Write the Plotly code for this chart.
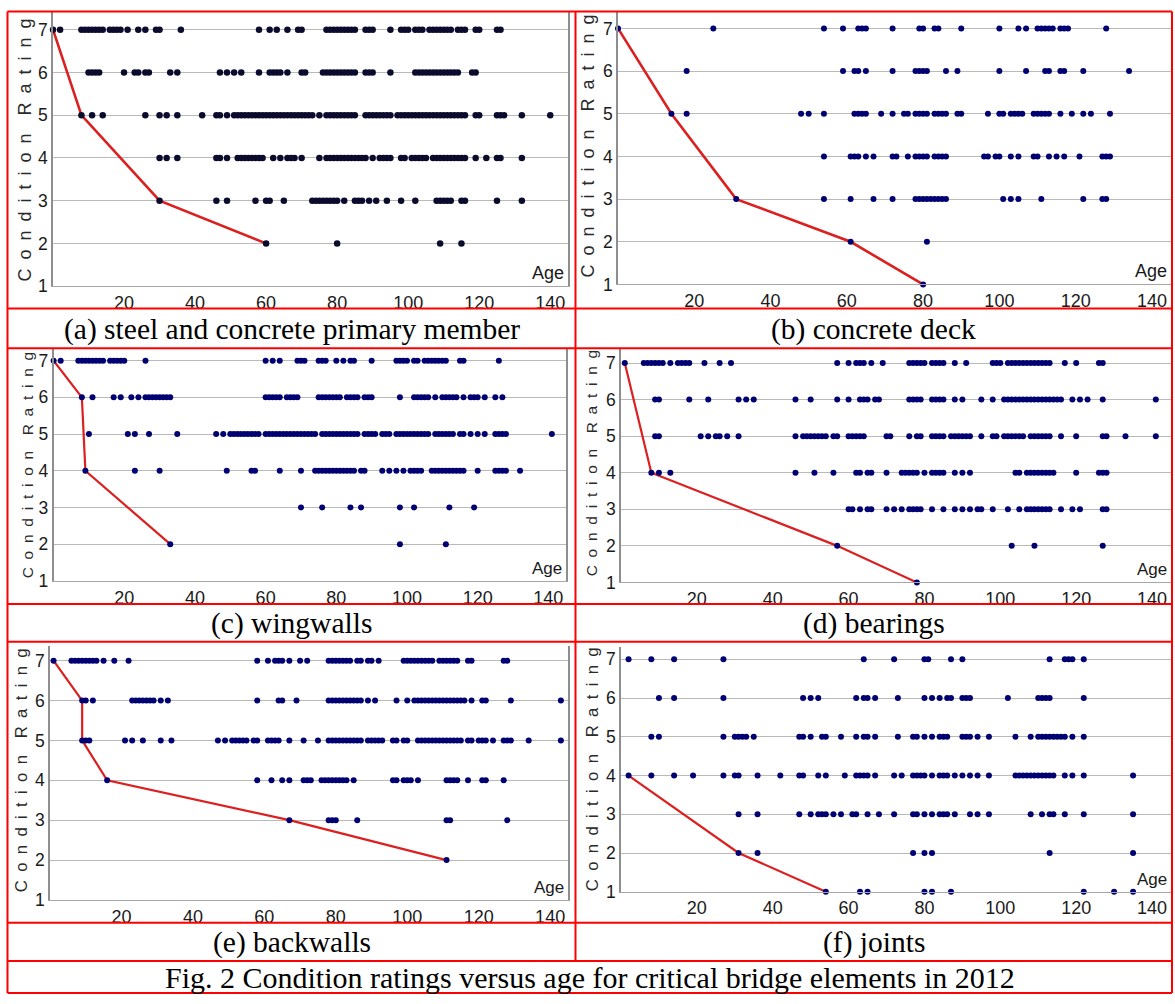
import plotly.graph_objects as go

W, H = 1175, 1004

# ---------------- data (ages) ----------------
AGE_TICKS = [20, 40, 60, 80, 100, 120, 140]
RATING_TICKS = [1, 2, 3, 4, 5, 6, 7]
CAPTIONS = ["(a) steel and concrete primary member", "(b) concrete deck",
            "(c) wingwalls", "(d) bearings", "(e) backwalls", "(f) joints"]
FIG_CAPTION = "Fig. 2 Condition ratings versus age for critical bridge elements in 2012"
Y_TITLE = "Condition Rating"
X_TITLE = "Age"

# (a) steel and concrete primary member
A7 = [0, 2, 8, 9, 10, 11, 12, 13, 14, 16, 17, 18, 19, 21, 24, 26, 29, 30, 36, 58, 61, 63, 66, 69, 70,
      77, 78, 79, 80, 81, 82, 83, 84, 85, 88, 89, 90, 95, 98, 99, 100, 102, 103, 104, 106, 107, 108,
      109, 110, 111, 112, 114, 115, 116, 119, 120, 125, 126]
A6 = [10, 11, 12, 13, 20, 23, 24, 26, 27, 33, 35, 47, 49, 51, 53, 58, 61, 62, 63, 64, 66, 70, 71, 76,
      77, 78, 79, 80, 81, 82, 83, 84, 85, 88, 89, 90, 95, 102, 103, 104, 105, 106, 107, 108, 109, 110,
      111, 112, 113, 114, 118, 119]
A5 = [8, 11, 14, 26, 30, 32, 35, 42, 46, 47, 49, 51, 52, 53, 54, 55, 56, 57, 58, 59, 60, 61, 62, 63,
      64, 65, 66, 67, 68, 69, 70, 71, 72, 73, 75, 77, 78, 79, 80, 81, 82, 83, 84, 85, 88, 89, 90, 91,
      92, 93, 94, 95, 97, 98, 99, 100, 101, 102, 103, 104, 105, 106, 107, 108, 109, 110, 111, 112, 113,
      114, 115, 116, 119, 120, 125, 126, 127, 132, 140]
A4 = [30, 32, 35, 46, 47, 49, 52, 53, 54, 55, 56, 57, 58, 59, 62, 64, 66, 67, 68, 70, 75, 77, 78, 79,
      80, 81, 82, 83, 84, 85, 86, 87, 88, 90, 92, 93, 94, 95, 98, 99, 101, 102, 103, 104, 105, 107, 108,
      109, 110, 111, 112, 113, 114, 115, 116, 119, 122, 125, 126, 132]
A3 = [30, 46, 49, 57, 60, 61, 65, 73, 74, 75, 76, 77, 78, 79, 80, 82, 85, 86, 87, 89, 91, 94, 98, 102,
      108, 109, 110, 111, 112, 115, 116, 125, 132]
A2 = [60, 80, 109, 115]
A_LINE_AGE = [0, 8, 30, 60]
A_LINE_RATING = [7, 5, 3, 2]

# (b) concrete deck
B7 = [0, 25, 54, 59, 63, 64, 65, 72, 79, 80, 83, 84, 90, 100, 105, 107, 110, 111, 112, 113, 114, 116,
      117, 118, 128]
B6 = [18, 59, 62, 63, 65, 72, 78, 79, 80, 81, 86, 89, 100, 107, 112, 113, 116, 117, 122, 134]
B5 = [14, 18, 48, 50, 54, 62, 63, 64, 65, 69, 72, 75, 76, 78, 79, 80, 81, 83, 84, 85, 86, 89, 90, 97,
      100, 101, 103, 104, 105, 106, 109, 110, 111, 112, 113, 116, 119, 122, 124, 129]
B4 = [54, 61, 62, 63, 65, 67, 72, 73, 76, 78, 79, 80, 81, 83, 84, 85, 86, 96, 97, 99, 100, 103, 105,
      109, 110, 113, 115, 117, 121, 127, 128, 129]
B3 = [31, 54, 61, 67, 72, 78, 79, 80, 81, 82, 83, 84, 85, 86, 101, 103, 105, 111, 122, 127, 128]
B2 = [61, 81]
B1 = [80]
B_LINE_AGE = [0, 14, 31, 61, 80]
B_LINE_RATING = [7, 5, 3, 2, 1]

# (c) wingwalls
C7 = [0, 2, 7, 8, 9, 10, 11, 12, 13, 14, 16, 17, 18, 19, 20, 26, 60, 62, 64, 69, 70, 71, 75, 76, 77,
      80, 82, 84, 85, 90, 97, 98, 99, 100, 102, 103, 105, 106, 107, 108, 109, 110, 111, 115, 116, 126]
C6 = [8, 11, 17, 19, 22, 24, 26, 27, 28, 29, 30, 31, 32, 33, 60, 61, 62, 63, 64, 66, 67, 68, 69, 75,
      76, 77, 78, 79, 80, 81, 83, 84, 85, 86, 88, 89, 90, 98, 102, 103, 104, 105, 106, 108, 110, 111,
      112, 113, 114, 116, 118, 119, 120, 122, 125, 127]
C5 = [10, 21, 23, 27, 35, 46, 48, 50, 51, 52, 53, 54, 55, 56, 57, 58, 60, 61, 62, 63, 64, 65, 66, 67,
      68, 69, 70, 71, 72, 73, 74, 76, 77, 78, 79, 80, 81, 82, 83, 84, 85, 86, 88, 89, 90, 91, 93, 94,
      95, 97, 98, 99, 100, 101, 102, 103, 104, 105, 106, 108, 109, 110, 111, 112, 113, 115, 116, 118,
      120, 122, 125, 126, 127, 128, 141]
C4 = [9, 23, 30, 49, 56, 57, 64, 70, 74, 75, 76, 77, 78, 79, 80, 81, 82, 83, 84, 85, 87, 88, 93, 95,
      97, 99, 101, 102, 103, 104, 107, 108, 109, 110, 111, 112, 113, 114, 115, 116, 120, 125, 126, 127,
      128, 132]
C3 = [70, 76, 84, 87, 98, 102, 112, 119]
C2 = [33, 98, 111]
C_LINE_AGE = [0, 8, 9, 33]
C_LINE_RATING = [7, 6, 4, 2]

# (d) bearings
D7 = [1, 6, 7, 8, 9, 10, 11, 13, 15, 16, 17, 18, 22, 26, 29, 57, 60, 62, 63, 64, 66, 69, 76, 77, 78,
      79, 80, 82, 83, 84, 85, 88, 91, 98, 99, 100, 102, 103, 104, 105, 106, 107, 108, 109, 110, 111,
      112, 113, 117, 120, 126, 127]
D6 = [9, 10, 18, 23, 31, 33, 35, 46, 50, 57, 60, 63, 64, 65, 67, 68, 76, 77, 78, 79, 82, 83, 84, 85,
      88, 90, 95, 98, 101, 102, 103, 104, 105, 106, 107, 108, 109, 110, 111, 112, 113, 114, 115, 116,
      119, 121, 123, 127, 141]
D5 = [9, 10, 21, 23, 25, 26, 28, 31, 46, 48, 49, 50, 51, 52, 53, 54, 56, 57, 60, 61, 62, 63, 64, 70,
      71, 76, 78, 79, 82, 83, 84, 85, 87, 88, 89, 90, 91, 92, 95, 98, 99, 101, 102, 103, 104, 105, 106,
      108, 109, 110, 111, 112, 113, 116, 120, 127, 128, 133, 141]
D4 = [8, 10, 13, 46, 51, 56, 62, 63, 65, 66, 70, 74, 75, 76, 77, 78, 80, 82, 83, 84, 85, 88, 90, 92,
      104, 105, 107, 108, 109, 110, 111, 112, 113, 114, 120, 126, 127, 128]
D3 = [60, 61, 63, 65, 66, 70, 72, 74, 76, 77, 78, 79, 82, 85, 88, 90, 92, 94, 95, 98, 102, 105, 107,
      108, 109, 110, 111, 112, 113, 116, 119, 121, 127, 128]
D2 = [57, 103, 109, 127]
D1 = [78]
D_LINE_AGE = [1, 8, 57, 78]
D_LINE_RATING = [7, 4, 2, 1]

# (e) backwalls
E7 = [1, 6, 7, 8, 9, 10, 11, 12, 13, 15, 18, 22, 58, 61, 63, 64, 65, 67, 70, 72, 78, 79, 80, 81, 82,
      83, 84, 86, 87, 89, 90, 92, 99, 100, 101, 102, 103, 104, 105, 106, 107, 109, 110, 111, 112, 113,
      114, 117, 118, 127, 128]
E6 = [9, 10, 12, 23, 24, 25, 26, 27, 28, 29, 31, 33, 58, 64, 65, 69, 78, 79, 80, 81, 82, 83, 84, 85,
      86, 87, 89, 91, 97, 100, 102, 103, 104, 105, 106, 107, 108, 109, 110, 111, 112, 113, 114, 115,
      116, 118, 121, 122, 129, 143]
E5 = [9, 10, 11, 21, 23, 26, 31, 34, 47, 49, 51, 52, 53, 54, 55, 57, 58, 61, 62, 63, 64, 67, 71, 75,
      78, 79, 80, 81, 82, 83, 84, 85, 86, 87, 89, 90, 91, 92, 93, 96, 97, 99, 100, 103, 104, 105, 106,
      107, 108, 109, 110, 111, 112, 113, 114, 115, 117, 118, 120, 121, 122, 124, 127, 128, 129, 134, 143]
E4 = [16, 58, 62, 65, 67, 71, 72, 73, 76, 77, 78, 79, 80, 81, 82, 83, 85, 96, 97, 99, 100, 101, 103,
      111, 112, 113, 114, 117, 121, 122, 127]
E3 = [67, 78, 79, 80, 86, 111, 112, 128]
E2 = [111]
E_LINE_AGE = [1, 9, 9, 16, 67, 111]
E_LINE_RATING = [7, 6, 5, 4, 3, 2]

# (f) joints
F7 = [2, 8, 14, 27, 64, 72, 80, 81, 87, 90, 113, 117, 118, 119, 122]
F6 = [10, 14, 27, 48, 50, 52, 62, 64, 65, 67, 73, 80, 82, 84, 86, 87, 90, 91, 92, 102, 110, 111, 112,
      113, 122]
F5 = [8, 10, 27, 30, 31, 32, 33, 35, 47, 48, 50, 53, 54, 58, 62, 64, 65, 67, 73, 77, 78, 80, 82, 84,
      85, 86, 90, 91, 92, 94, 97, 104, 108, 110, 111, 112, 113, 114, 115, 116, 117, 119, 122]
F4 = [2, 8, 14, 19, 27, 30, 31, 36, 42, 47, 48, 52, 54, 59, 62, 63, 64, 65, 67, 72, 74, 77, 78, 79,
      80, 82, 84, 85, 86, 88, 90, 92, 94, 97, 104, 105, 106, 107, 108, 109, 110, 111, 112, 113, 114,
      117, 119, 122, 135]
F3 = [31, 36, 47, 50, 52, 53, 54, 56, 58, 61, 62, 65, 68, 72, 77, 78, 80, 82, 84, 85, 86, 88, 92, 94,
      97, 108, 111, 113, 114, 117, 122, 135]
F2 = [31, 36, 77, 80, 82, 113, 135]
F1 = [54, 63, 65, 80, 82, 87, 122, 130, 135]
F_LINE_AGE = [2, 31, 54]
F_LINE_RATING = [4, 2, 1]

PANEL_POINTS = [
    {7: A7, 6: A6, 5: A5, 4: A4, 3: A3, 2: A2},
    {7: B7, 6: B6, 5: B5, 4: B4, 3: B3, 2: B2, 1: B1},
    {7: C7, 6: C6, 5: C5, 4: C4, 3: C3, 2: C2},
    {7: D7, 6: D6, 5: D5, 4: D4, 3: D3, 2: D2, 1: D1},
    {7: E7, 6: E6, 5: E5, 4: E4, 3: E3, 2: E2},
    {7: F7, 6: F6, 5: F5, 4: F4, 3: F3, 2: F2, 1: F1},
]
PANEL_LINES = [(A_LINE_AGE, A_LINE_RATING), (B_LINE_AGE, B_LINE_RATING), (C_LINE_AGE, C_LINE_RATING),
               (D_LINE_AGE, D_LINE_RATING), (E_LINE_AGE, E_LINE_RATING), (F_LINE_AGE, F_LINE_RATING)]

# ---------------- layout geometry (pixels) ----------------
X_MAX = 145
RED = "#ff0000"
LINE_RED = "#dc1f1f"
SANS = "Liberation Sans, Arial, sans-serif"
SERIF = "Liberation Serif, Times New Roman, serif"

GEOM = [
    dict(x0=53, x1=568, py1=289, py7=30, ptop=12.5, tx=25, ty=152, tf=18, mirror=True, dot="#0b0b2e", ms=6.5, lw=2.6, af=18),
    dict(x0=618, x1=1171, py1=287.3, py7=28.7, ptop=12, tx=588, ty=148, tf=18, mirror=False, dot="#000073", ms=6, lw=2.6, af=18),
    dict(x0=53.6, x1=566, py1=586.7, py7=364.3, ptop=353, tx=27, ty=470, tf=15.5, mirror=True, dot="#000073", ms=6, lw=2.2, af=17),
    dict(x0=621, x1=1171, py1=588.3, py7=366.7, ptop=352, tx=591, ty=468, tf=15.5, mirror=False, dot="#000073", ms=6, lw=2.2, af=17),
    dict(x0=50, x1=568, py1=909, py7=667.3, ptop=652, tx=21, ty=778, tf=16.7, mirror=True, dot="#000073", ms=6, lw=2.2, af=17),
    dict(x0=621, x1=1171, py1=900.7, py7=666, ptop=654, tx=592, ty=777, tf=16.7, mirror=False, dot="#000073", ms=6, lw=2.2, af=17),
]

BORDER_L, BORDER_M, BORDER_R = 7.5, 575.5, 1172
BORDER_T, BORDER_B = 11.5, 1003
ROW_LINES = [311.7, 351.7, 610, 648.3, 932, 970.7]
CAPTION_Y = [332.5, 629.8, 952]
FIG_CAPTION_Y = 987


def fx(px):
    return px / W


def fy(py):
    return 1 - py / H


def spaced(text, gap="\u2002", wordgap="\u2003"):
    return wordgap.join(gap.join(list(w)) for w in text.split(" "))


fig = go.Figure()
layout = {}
annotations = []

for i, (pts, (la, lr), g) in enumerate(zip(PANEL_POINTS, PANEL_LINES, GEOM), start=1):
    sx = "" if i == 1 else str(i)
    xa, ya = "x" + sx, "y" + sx
    fig.add_trace(go.Scatter(x=la, y=lr, mode="lines", line=dict(color=LINE_RED, width=g["lw"]),
                             xaxis=xa, yaxis=ya, showlegend=False, hoverinfo="skip", cliponaxis=False))
    xs, ys = [], []
    for r, ages in pts.items():
        xs += ages
        ys += [r] * len(ages)
    fig.add_trace(go.Scatter(x=xs, y=ys, mode="markers",
                             marker=dict(color=g["dot"], size=g["ms"], symbol="circle", line=dict(width=0)),
                             xaxis=xa, yaxis=ya, showlegend=False, cliponaxis=False))
    unit = (g["py1"] - g["py7"]) / 6
    ytop = 7 + (g["py7"] - g["ptop"]) / unit
    layout["xaxis" + sx] = dict(domain=[fx(g["x0"]), fx(g["x1"])], range=[0, X_MAX], anchor=ya,
                                tickvals=AGE_TICKS, ticktext=[str(v) for v in AGE_TICKS],
                                showgrid=False, zeroline=False, showline=True, linecolor="#a6a6a6",
                                linewidth=1.2, ticks="", tickfont=dict(family=SANS, size=18, color="#1a1a1a"),
                                fixedrange=True)
    layout["yaxis" + sx] = dict(domain=[fy(g["py1"]), fy(g["ptop"])], range=[1, ytop], anchor=xa,
                                tickvals=RATING_TICKS, showgrid=True, gridcolor="#b9b9b9", gridwidth=1,
                                zeroline=False, showline=True, linecolor="#8e8e8e", linewidth=1.5,
                                mirror=g["mirror"], ticks="",
                                tickfont=dict(family=SANS, size=17.5, color="#1a1a1a"), fixedrange=True)
    annotations.append(dict(xref="paper", yref="paper", x=fx(g["tx"]), y=fy(g["ty"]), text=spaced(Y_TITLE),
                            textangle=-90, showarrow=False, xanchor="center", yanchor="middle",
                            font=dict(family=SANS, size=g["tf"], color="#2a2a2a")))
    annotations.append(dict(xref="paper", yref="paper", x=fx(g["x1"] - 2), y=fy(g["py1"] - 1), text=X_TITLE,
                            showarrow=False, xanchor="right", yanchor="bottom",
                            font=dict(family=SANS, size=g["af"], color="#1a1a1a")))

# captions
cell_cx = [(BORDER_L + BORDER_M) / 2, (BORDER_M + BORDER_R) / 2]
for k, cap in enumerate(CAPTIONS):
    annotations.append(dict(xref="paper", yref="paper", x=fx(cell_cx[k % 2]), y=fy(CAPTION_Y[k // 2]),
                            text=cap, showarrow=False, xanchor="center", yanchor="middle",
                            font=dict(family=SERIF, size=29.5, color="#000000")))
annotations.append(dict(xref="paper", yref="paper", x=fx((BORDER_L + BORDER_R) / 2), y=fy(FIG_CAPTION_Y),
                        text=FIG_CAPTION, showarrow=False, xanchor="center", yanchor="middle",
                        font=dict(family=SERIF, size=30, color="#000000")))

# red table borders
shapes = []


def hline(py, x0=BORDER_L, x1=BORDER_R):
    shapes.append(dict(type="line", xref="paper", yref="paper", x0=fx(x0), x1=fx(x1), y0=fy(py), y1=fy(py),
                       line=dict(color=RED, width=2)))


def vline(px, y0, y1):
    shapes.append(dict(type="line", xref="paper", yref="paper", x0=fx(px), x1=fx(px), y0=fy(y0), y1=fy(y1),
                       line=dict(color=RED, width=2)))


hline(BORDER_T)
hline(BORDER_B)
for py in ROW_LINES:
    hline(py)
vline(BORDER_L, BORDER_T, BORDER_B)
vline(BORDER_R, BORDER_T, BORDER_B)
vline(BORDER_M, BORDER_T, ROW_LINES[-1])

fig.update_layout(width=W, height=H, autosize=False, margin=dict(l=0, r=0, t=0, b=0),
                  paper_bgcolor="white", plot_bgcolor="white", showlegend=False,
                  annotations=annotations, shapes=shapes, **layout)

fig.write_html("out.html", config={"displayModeBar": False},
               post_script="document.body.style.margin='0';document.body.style.overflow='hidden';")
